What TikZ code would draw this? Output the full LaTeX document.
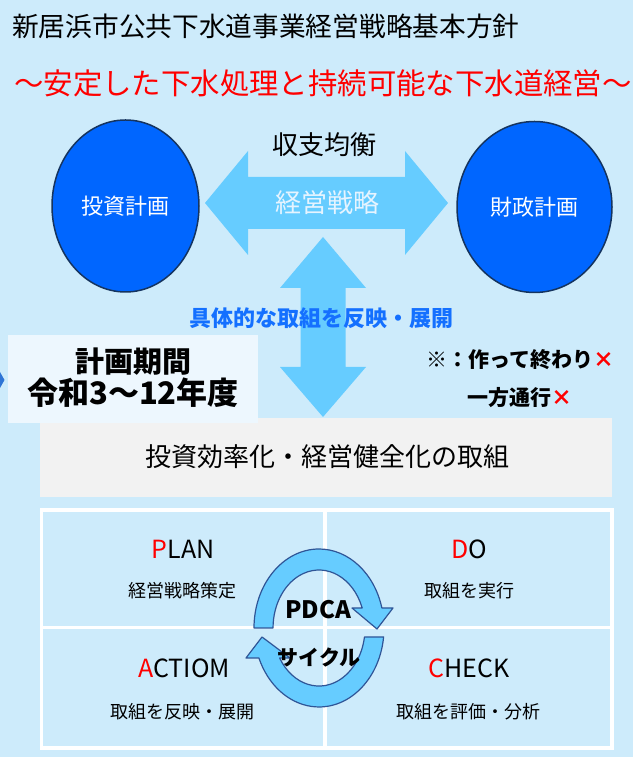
\documentclass[tikz,border=0pt]{standalone}
\usepackage{fontspec}
\setmainfont{Noto Sans CJK JP}
\usetikzlibrary{shapes.geometric}
\definecolor{bgblue}{HTML}{CDEBFB}
\definecolor{planblue}{HTML}{0066FF}
\definecolor{edgeblue}{HTML}{15345F}
\definecolor{arrowblue}{HTML}{66CCFF}
\definecolor{cycleedge}{HTML}{2F5597}
\definecolor{boldblue}{HTML}{1470FF}
\definecolor{chevron}{HTML}{2E75D6}
\definecolor{termbox}{HTML}{EDF7FE}
\definecolor{actbox}{HTML}{F2F2F2}
\definecolor{pale}{HTML}{E6F4FF}
\begin{document}
\begin{tikzpicture}[x=1pt, y=1pt,
	plan/.style={ellipse, draw=edgeblue, line width=1.5pt, fill=planblue,
		text=white, inner sep=0pt, font=\fontsize{22}{26}\selectfont},
	cellhead/.style={inner sep=0pt, font=\fontsize{25}{30}\selectfont},
	celltext/.style={inner sep=0pt, font=\fontsize{18}{22}\selectfont},
	cycle arrow/.style={fill=arrowblue, draw=cycleedge, line width=1.2pt, line join=round}]
	\useasboundingbox (0,0) rectangle (633,757);
	\fill[bgblue] (0,0) rectangle (633,757);
	\fill[chevron] (0,369) -- (4.5,377) -- (0,385) -- cycle;
	% titles
	\node (title) at (12,731) [anchor=west, inner sep=0pt, font=\fontsize{26.7}{30}\selectfont] {新居浜市公共下水道事業経営戦略基本方針};
	\node (motto) at (14,674) [anchor=west, inner sep=0pt, text=red, font=\fontsize{29.4}{34}\selectfont] {～安定した下水処理と持続可能な下水道経営～};
	% strategy arrows
	\fill[arrowblue] (205,554) -- (248,606) -- (248,580) -- (405,580) -- (405,606)
		-- (448,554) -- (405,502) -- (405,528) -- (248,528) -- (248,502) -- cycle;
	\fill[arrowblue] (323,520) -- (366,469) -- (345.5,469) -- (345.5,390) -- (366,390)
		-- (323,340) -- (280,390) -- (300.5,390) -- (300.5,469) -- (280,469) -- cycle;
	\node (balance) at (324,612) [inner sep=0pt, font=\fontsize{26}{30}\selectfont] {収支均衡};
	\node (strategy) at (327,554) [inner sep=0pt, text=pale, font=\fontsize{26}{30}\selectfont] {経営戦略};
	\node (invest) at (125.5,551) [plan, minimum width=147pt, minimum height=172pt] {投資計画};
	\node (finance) at (534.5,550) [plan, minimum width=155pt, minimum height=171pt] {財政計画};
	\node (reflect) at (321,439) [inner sep=0pt, text=boldblue, font=\fontsize{22}{26}\selectfont\bfseries] {具体的な取組を反映・展開};
	% boxes
	\fill[actbox] (40,260) rectangle (612,339);
	\node (effort) at (327,300) [inner sep=0pt, font=\fontsize{26}{30}\selectfont] {投資効率化・経営健全化の取組};
	\fill[termbox] (8,334) rectangle (258,422);
	\node (term) at (133,395) [inner sep=0pt, font=\fontsize{29}{34}\selectfont\bfseries] {計画期間};
	\node (years) at (133,364) [inner sep=0pt, font=\fontsize{31}{36}\selectfont\bfseries] {令和3～12年度};
	\node (note) at (426,397) [anchor=west, inner sep=0pt, font=\fontsize{21}{25}\selectfont\bfseries] {※：作って終わり\textcolor{red}{×}};
	\node (oneway) at (467,359) [anchor=west, inner sep=0pt, font=\fontsize{21}{25}\selectfont\bfseries] {一方通行\textcolor{red}{×}};
	% PDCA
	\draw[white, line width=3.5pt] (41.5,9) rectangle (612,247);
	\draw[white, line width=3.5pt] (325,9) -- (325,247) (41.5,129.5) -- (612,129.5);
	\node (plan) at (183,208) [cellhead] {\textcolor{red}{P}LAN};
	\node (plantext) at (182,166) [celltext] {経営戦略策定};
	\node (do) at (469,208) [cellhead] {\textcolor{red}{D}O};
	\node (dotext) at (469,166) [celltext] {取組を実行};
	\node (act) at (184,89) [cellhead] {\textcolor{red}{A}CTIOM};
	\node (acttext) at (182,45) [celltext] {取組を反映・展開};
	\node (check) at (469,89) [cellhead] {\textcolor{red}{C}HECK};
	\node (checktext) at (468,45) [celltext] {取組を評価・分析};
	\draw[cycle arrow] (254,129) arc[start angle=180, end angle=14.7, x radius=65pt, y radius=79pt]
		-- (393,149) -- (377,128) -- (352,149) -- (362.2,149)
		arc[start angle=20.2, end angle=180, x radius=46pt, y radius=58pt] -- cycle;
	\draw[cycle arrow] (383.6,120.1) arc[start angle=-6.5, end angle=-157.7, x radius=65pt, y radius=79pt]
		-- (246,99) -- (262,120) -- (290,99) -- (279.6,99)
		arc[start angle=-148.9, end angle=-8.9, x radius=46pt, y radius=58pt] -- cycle;
	\node (pdca) at (318,147) [inner sep=0pt, font=\fontsize{24}{28}\selectfont\bfseries] {PDCA};
	\node (cycle) at (319,99) [inner sep=0pt, font=\fontsize{21}{25}\selectfont\bfseries] {サイクル};
\end{tikzpicture}
\end{document}
